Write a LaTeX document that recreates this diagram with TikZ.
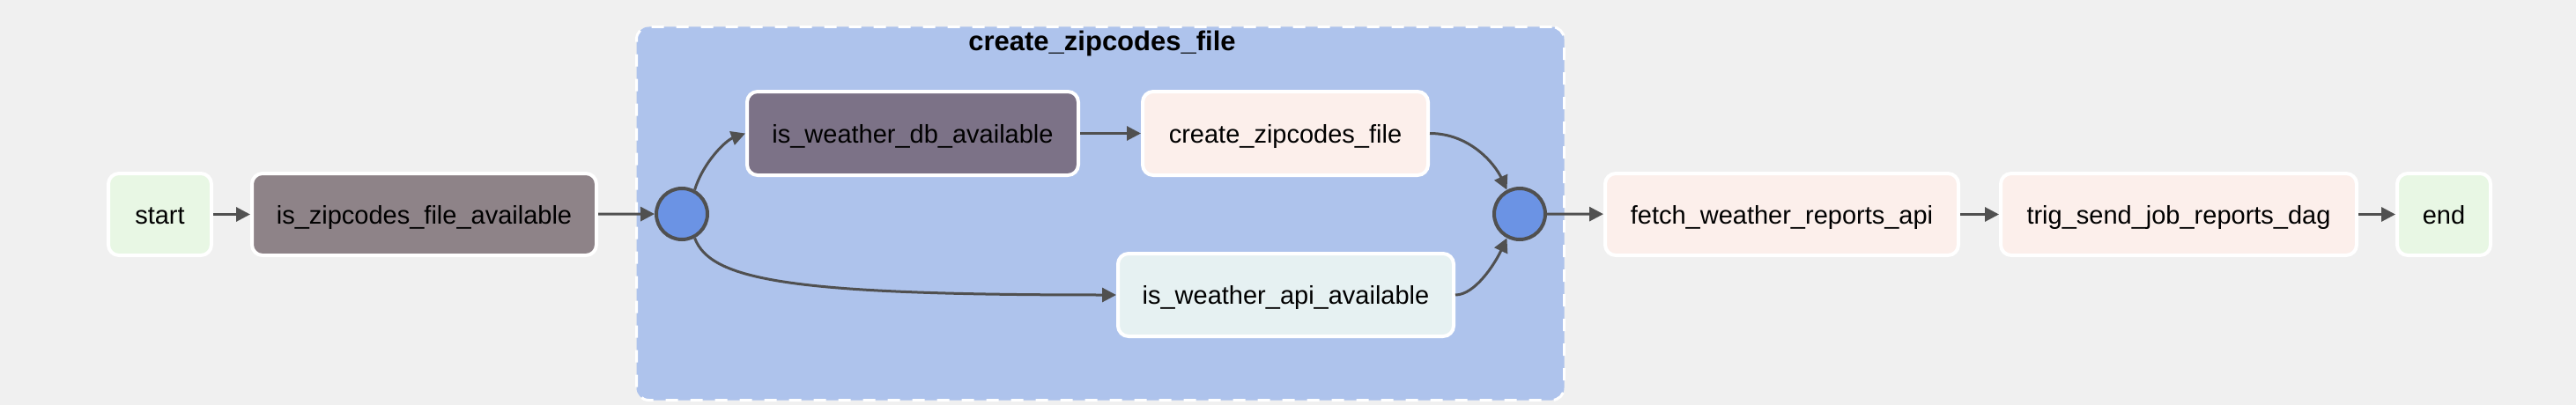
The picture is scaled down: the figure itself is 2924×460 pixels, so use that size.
\documentclass[tikz,border=0pt]{standalone}
\usepackage{fontspec}
\setmainfont{Liberation Sans}
\usetikzlibrary{arrows.meta}
\definecolor{bg}{HTML}{F0F0F0}
\definecolor{cstart}{HTML}{E8F7E4}
\definecolor{czipf}{HTML}{8E8388}
\definecolor{cdb}{HTML}{7C7287}
\definecolor{cpeach}{HTML}{FCEFEB}
\definecolor{capi}{HTML}{E6F1F2}
\definecolor{cgroup}{HTML}{AEC3EC}
\definecolor{joinfill}{HTML}{6B93E4}
\definecolor{linecol}{HTML}{505050}
\begin{document}
\begin{tikzpicture}[x=1pt,y=-1pt,
  task/.style={draw=white, line width=4pt, rounded corners=12pt, minimum height=93pt,
    inner sep=0pt, text height=21pt, text depth=0pt,
    font=\fontsize{29}{34}\selectfont, align=center},
  joinnode/.style={circle, draw=linecol, line width=4pt, fill=joinfill,
    minimum size=58pt, inner sep=0pt},
  grpbox/.style={draw=white, line width=3pt, dash pattern=on 14pt off 14pt,
    rounded corners=14pt, fill=cgroup, inner sep=0pt},
  conn/.style={draw=linecol, line width=3pt, -{Triangle[length=16pt,width=16pt]}}
]
\useasboundingbox[fill=bg] (0,0) rectangle (2924,460);

\node[grpbox, minimum width=1053pt, minimum height=424pt] (grp) at (1249,242.5) {};
\node[font=\bfseries\fontsize{31}{36}\selectfont, anchor=base] (title) at (1251,58) {create\_zipcodes\_file};

\node[task, fill=cstart, minimum width=117pt] (start) at (181.5,243.5) {start};
\node[task, fill=czipf, minimum width=391pt] (zipf) at (481.5,243.5) {is\_zipcodes\_file\_available};
\node[joinnode] (lc) at (774,243) {};
\node[task, fill=cdb, minimum width=376pt, minimum height=95pt] (db) at (1036,151.5) {is\_weather\_db\_available};
\node[task, fill=cpeach, minimum width=324pt, minimum height=95pt] (cz) at (1459,151.5) {create\_zipcodes\_file};
\node[task, fill=capi, minimum width=381pt, minimum height=94pt] (api) at (1459.5,335) {is\_weather\_api\_available};
\node[joinnode] (rc) at (1725,243) {};
\node[task, fill=cpeach, minimum width=401pt] (fetch) at (2022.5,243.5) {fetch\_weather\_reports\_api};
\node[task, fill=cpeach, minimum width=404pt] (trig) at (2473,243.5) {trig\_send\_job\_reports\_dag};
\node[task, fill=cstart, minimum width=106pt] (endn) at (2774,243.5) {end};

\draw[conn] (start) -- (zipf);
\draw[conn] (zipf) -- (lc);
\draw[conn] (lc.62) .. controls +(10,-32) and +(-22,8) .. (db.west);
\draw[conn] (lc.-62) .. controls +(18,48) and +(-370,0) .. (api.west);
\draw[conn] (db) -- (cz);
\draw[conn] (cz.east) .. controls +(45,0) and +(-14,-30) .. (rc.118);
\draw[conn] (api.east) .. controls +(22,0) and +(-14,30) .. (rc.-118);
\draw[conn] (rc) -- (fetch);
\draw[conn] (fetch) -- (trig);
\draw[conn] (trig) -- (endn);
\end{tikzpicture}
\end{document}
